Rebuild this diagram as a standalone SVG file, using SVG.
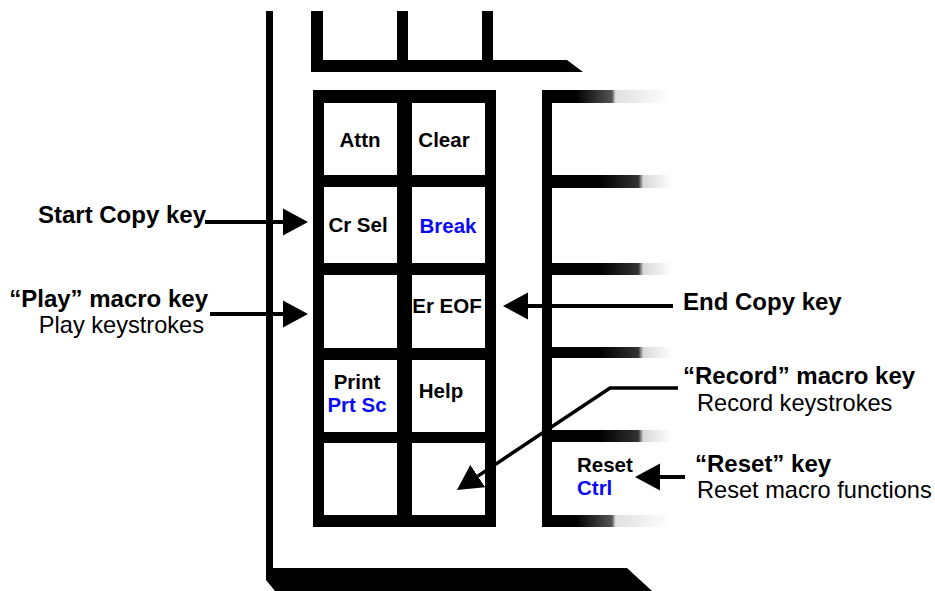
<svg xmlns="http://www.w3.org/2000/svg" width="935" height="591" viewBox="0 0 935 591">
<defs>
<style>
.key{font-family:"Liberation Sans",Arial,sans-serif;font-weight:bold;font-size:20.5px;fill:#000}
.blue{fill:#0a0af5}
.ann{font-family:"Liberation Sans",Arial,sans-serif;font-weight:bold;font-size:24px;fill:#000}
.sub{font-family:"Liberation Sans",Arial,sans-serif;font-size:23.6px;fill:#000}
.conn{fill:none;stroke:#000;stroke-width:4}
.cell{fill:#fff}
</style>
<marker id="head" markerUnits="userSpaceOnUse" markerWidth="26" markerHeight="28" viewBox="0 -14 26 28" refX="0" refY="0" orient="auto">
<path d="M0,-13.5 L25,0 L0,13.5 Z" fill="#000"/>
</marker>
<linearGradient id="fadeTop" gradientUnits="userSpaceOnUse" x1="552" y1="0" x2="672" y2="0">
<stop offset="0" stop-color="#000"/>
<stop offset="0.2" stop-color="#000"/>
<stop offset="0.5" stop-color="#555"/>
<stop offset="0.53" stop-color="#e0e0e0"/>
<stop offset="1" stop-color="#fff"/>
</linearGradient>
<linearGradient id="fade" gradientUnits="userSpaceOnUse" x1="552" y1="0" x2="672" y2="0">
<stop offset="0" stop-color="#000"/>
<stop offset="0.4" stop-color="#000"/>
<stop offset="0.72" stop-color="#333"/>
<stop offset="0.76" stop-color="#d8d8d8"/>
<stop offset="1" stop-color="#fff"/>
</linearGradient>
</defs>
<rect width="935" height="591" fill="#fff"/>

<g id="keyboard-frame">
<rect x="266" y="11" width="7" height="560" fill="#000"/>
<polygon points="266,568 627,568 652,591 275,591 266,580" fill="#000"/>
<rect x="311" y="11" width="12" height="61" fill="#000"/>
<rect x="397" y="11" width="11" height="61" fill="#000"/>
<rect x="482" y="11" width="11" height="61" fill="#000"/>
<polygon points="311,60 567,60 583,72 311,72" fill="#000"/>
</g>

<g id="key-grid">
<rect x="313" y="90" width="183" height="437" fill="#000"/>
<rect class="cell" x="324" y="103" width="73" height="72"/>
<rect class="cell" x="412" y="103" width="73" height="72"/>
<rect class="cell" x="324" y="187" width="73" height="76"/>
<rect class="cell" x="412" y="187" width="73" height="76"/>
<rect class="cell" x="324" y="275" width="73" height="73"/>
<rect class="cell" x="412" y="275" width="73" height="73"/>
<rect class="cell" x="324" y="360" width="73" height="72"/>
<rect class="cell" x="412" y="360" width="73" height="72"/>
<rect class="cell" x="324" y="443" width="73" height="72"/>
<rect class="cell" x="412" y="443" width="73" height="72"/>
</g>

<g id="right-column">
<rect x="542" y="90" width="10" height="437" fill="#000"/>
<rect x="552" y="90" width="120" height="13" fill="url(#fadeTop)"/>
<rect x="552" y="175" width="120" height="13" fill="url(#fade)"/>
<rect x="552" y="263" width="120" height="12" fill="url(#fade)"/>
<rect x="552" y="347" width="120" height="11" fill="url(#fade)"/>
<rect x="552" y="430" width="120" height="12" fill="url(#fade)"/>
<rect x="552" y="515" width="120" height="12" fill="url(#fadeTop)"/>
</g>

<g id="key-attn"><text class="key" x="360" y="147" text-anchor="middle">Attn</text></g>
<g id="key-clear"><text class="key" x="444" y="147" text-anchor="middle">Clear</text></g>
<g id="key-crsel"><text class="key" x="358" y="232" text-anchor="middle">Cr Sel</text></g>
<g id="key-break"><text class="key blue" x="448" y="233" text-anchor="middle">Break</text></g>
<g id="key-ereof"><text class="key" x="447" y="313" text-anchor="middle">Er EOF</text></g>
<g id="key-print"><text class="key" x="357" y="389" text-anchor="middle">Print</text><text class="key blue" x="357" y="412" text-anchor="middle">Prt Sc</text></g>
<g id="key-help"><text class="key" x="441" y="398" text-anchor="middle">Help</text></g>
<g id="key-reset"><text class="key" x="577" y="472">Reset</text><text class="key blue" x="577" y="495">Ctrl</text></g>

<g id="label-start-copy"><text class="ann" x="206" y="223" text-anchor="end">Start Copy key</text></g>
<g id="label-play"><text class="ann" x="208" y="307" text-anchor="end">“Play” macro key</text><text class="sub" x="204" y="333" text-anchor="end">Play keystrokes</text></g>
<g id="label-end-copy"><text class="ann" x="683" y="310">End Copy key</text></g>
<g id="label-record"><text class="ann" x="683" y="384">“Record” macro key</text><text class="sub" x="697" y="411">Record keystrokes</text></g>
<g id="label-reset"><text class="ann" x="695" y="472">“Reset” key</text><text class="sub" x="697" y="498">Reset macro functions</text></g>

<g id="connectors">
<line class="conn" x1="205" y1="222" x2="283" y2="222" marker-end="url(#head)"/>
<line class="conn" x1="210" y1="314" x2="283" y2="314" marker-end="url(#head)"/>
<line class="conn" x1="673" y1="306" x2="528" y2="306" marker-end="url(#head)"/>
<line class="conn" x1="685" y1="477" x2="660" y2="477" marker-end="url(#head)"/>
<polyline class="conn" style="stroke-width:3.5" points="678,388 610,388 477.8,476.1" marker-end="url(#head)"/>
</g>
</svg>
